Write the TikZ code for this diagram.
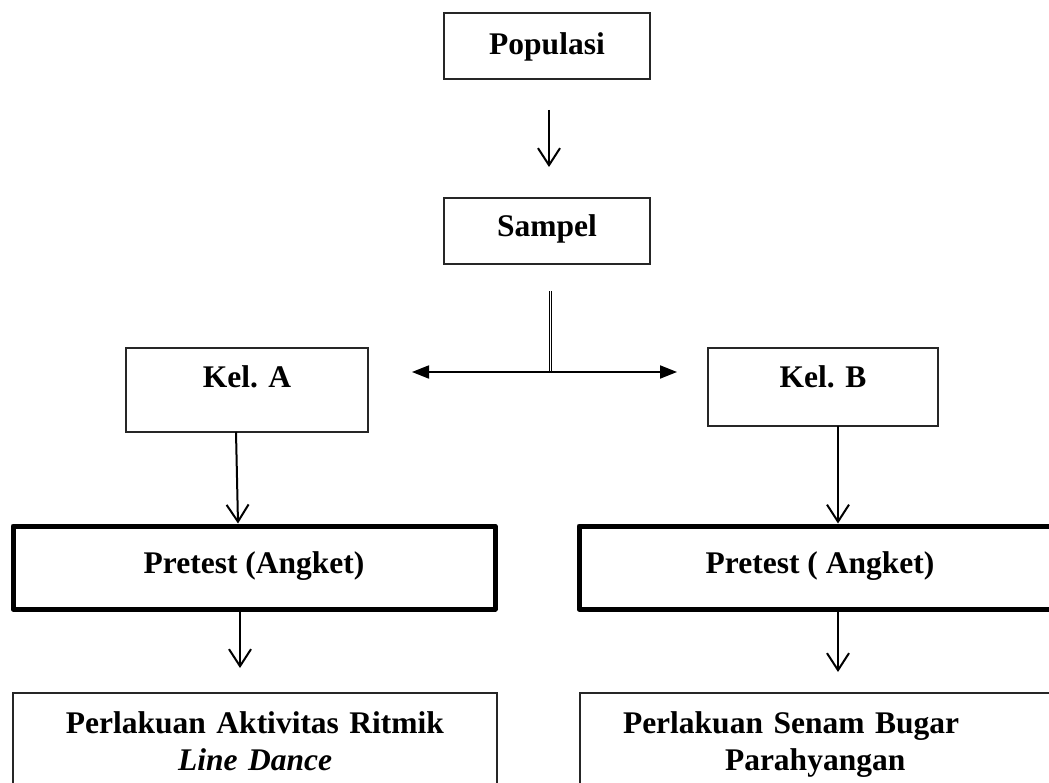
\documentclass[tikz,border=0pt]{standalone}
\usepackage{fontspec}
\setmainfont{Liberation Serif}
\usetikzlibrary{arrows.meta,calc}
\begin{document}
\begin{tikzpicture}[x=1pt,y=-1pt,
  box/.style={draw=black!85, line width=1.3pt, inner sep=0pt, outer sep=0pt,
    anchor=north west, font=\fontsize{31.5}{37}\selectfont\bfseries},
  thickbox/.style={box, draw=black, line width=5pt, line join=round},
  flow/.style={line width=2pt, -{Straight Barb[length=17pt,width=22pt,line width=2pt]}},
  splitarrow/.style={line width=1.8pt, -{Triangle[length=17pt,width=13pt]}}]
\useasboundingbox (0,0) rectangle (1049,783);
% boxes
\node[box, minimum width=206pt, minimum height=66pt, text height=22pt, text depth=4pt] (pop) at (444,13) {Populasi};
\node[box, minimum width=206pt, minimum height=66pt, text height=22pt, text depth=10pt] (samp) at (444,198) {Sampel};
\node[box, minimum width=242pt, minimum height=84pt, text height=22pt, text depth=26pt] (kela) at (126,348) {Kel. A};
\node[box, minimum width=230pt, minimum height=78pt, text height=22pt, text depth=20pt] (kelb) at (708,348) {Kel. B};
\node[thickbox, minimum width=482pt, minimum height=83pt, text height=22pt, text depth=11pt] (preta) at (13,526) {Pretest (Angket)};
\node[thickbox, minimum width=482pt, minimum height=83pt, text height=22pt, text depth=11pt] (pretb) at (579,526) {Pretest ( Angket)};
\node[box, inner xsep=0pt, inner ysep=19pt, text width=484pt, align=center] (perla) at (13,693)
  {Perlakuan Aktivitas Ritmik\\\textit{Line Dance}};
\node[box, inner xsep=43pt, inner ysep=19pt, text width=440pt, align=left] (perlb) at (580,693)
  {Perlakuan Senam Bugar\\\hspace*{102pt}Parahyangan};
% connectors
\draw[flow] ($(pop.south)+(2,31)$) -- ($(samp.north)+(2,-31)$);
\coordinate (s1) at ($(samp.south)+(3.5,27)$);
\coordinate (j) at ($(samp.south)+(3.5,108)$);
\coordinate (lt) at ($(j)+(-138.5,0)$);
\coordinate (rt) at ($(j)+(126.5,0)$);
\draw[line width=0.9pt, double, double distance=1.2pt] (s1) -- (j);
\draw[splitarrow] (j) -- (lt);
\draw[splitarrow] (j) -- (rt);
\draw[flow] ($(kela.south)+(-11,0)$) -- ($(preta.north)+(-16,-2.5)$);
\draw[flow] ($(kelb.south)+(15,0)$) -- ($(pretb.north)+(18,-2.5)$);
\draw[flow] ($(preta.south)+(-14,2.5)$) -- ($(perla.north)+(-15,-25)$);
\draw[flow] ($(pretb.south)+(18,2.5)$) -- ($(perlb.north)+(-5,-21)$);
\end{tikzpicture}
\end{document}
